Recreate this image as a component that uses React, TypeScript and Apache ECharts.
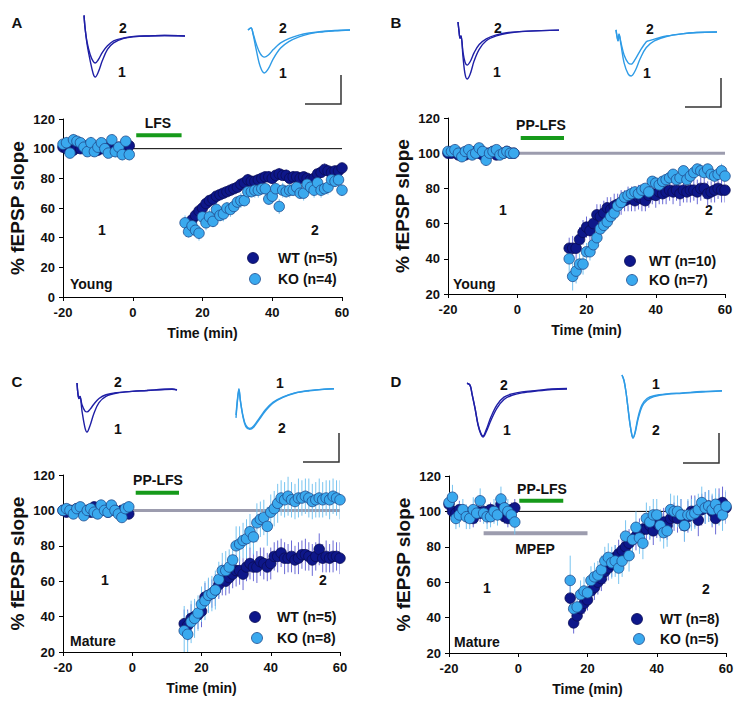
import React, { useEffect, useRef } from "react";
import * as echarts from "echarts";

// ---------- time axes (min) ----------
const baseTimes = [-20, -19, -18, -17, -16, -15, -14, -13, -12, -11, -10, -9, -8, -7, -6, -5, -4, -3, -2, -1];
const postTimes = [15, 16, 17, 18, 19, 20, 21, 22, 23, 24, 25, 26, 27, 28, 29, 30, 31, 32, 33, 34, 35, 36, 37, 38, 39, 40, 41, 42, 43, 44, 45, 46, 47, 48, 49, 50, 51, 52, 53, 54, 55, 56, 57, 58, 59, 60];

// ---------- Panel A (Young, LFS) ----------
const aWTbase = [101, 100, 101, 99, 101, 100, 102, 99, 100, 101, 99, 100, 101, 98, 100, 99, 101, 100, 101, 102];
const aKObase = [103, 104, 97, 106, 105, 104, 101, 98, 104, 98, 101, 104, 100, 97, 106, 98, 101, 96, 105, 96];
const aWTpost = [null, null, 52, 55, 58, 60, 63, 65, 66, 68, 69, 70, 71, 72, 73, 74, 76, 77, 79, 78, 78, 79, 80, 81, 81, 80, 82, 83, 82, 82, 80, 81, 81, 80, 81, 80, 79, 80, 83, 84, 86, 85, 84, 85, 85, 87];
const aKOpost = [50, 44, 48, 45, 43, 54, 50, 54, 51, 59, 55, 56, 60, 59, 61, 64, 65, 65, 71, 71, 72, 72, 73, 73, 66, 68, 73, 61, 72, 71, 72, 72, 74, 70, 70, 76, 74, 72, 77, 72, 73, 74, 79, 78, 79, 72];
const aWTbaseE = [2, 3, 2, 2, 3, 2, 3, 2, 2, 3, 2, 2, 3, 2, 3, 2, 2, 3, 2, 2];
const aKObaseE = [3, 4, 3, 4, 3, 4, 3, 3, 4, 3, 4, 3, 4, 3, 3, 4, 3, 4, 3, 4];
const aWTpostE = [0, 0, 3, 4, 3, 4, 4, 3, 4, 3, 4, 4, 3, 4, 3, 4, 4, 3, 4, 3, 4, 3, 4, 3, 4, 4, 3, 4, 3, 4, 3, 4, 3, 4, 3, 3, 4, 3, 4, 3, 4, 3, 4, 3, 4, 3];
const aKOpostE = [5, 4, 5, 4, 5, 4, 5, 5, 4, 5, 4, 5, 4, 5, 5, 4, 5, 4, 5, 4, 5, 5, 4, 5, 4, 5, 4, 5, 5, 4, 5, 4, 5, 4, 5, 5, 4, 5, 4, 5, 4, 5, 5, 4, 5, 4];

// ---------- Panel B (Young, PP-LFS) ----------
const bWTbase = [100, 100, 101, 99, 100, 99, 100, 100, 101, 100, 99, 100, 100, 101, 99, 100, 100, 101, 100, 100];
const bKObase = [101, 101, 102, 100, 98, 101, 102, 99, 100, 103, 101, 96, 100, 101, 102, 99, 100, 101, 100, 100];
const bWTpost = [46, 46, 46, 51, 55, 58, 56, 60, 65, 64, 66, 69, 68, 70, 71, 72, 73, 74, 74, 73, 75, 74, 73, 76, 77, 76, 78, 77, 78, 79, 78, 79, 77, 79, 78, 79, 79, 78, 80, 80, 77, 78, 79, 80, 79, 79];
const bKOpost = [40, 30, 33, 37, 37, 44, 44, 48, 52, 57, 59, 61, 64, 66, 70, 72, 75, 76, 77, 78, 77, 79, 80, 78, 84, 83, 82, 84, 85, 86, 88, 85, 86, 90, 85, 87, 89, 91, 90, 89, 91, 88, 87, 88, 90, 87];
const bWTbaseE = [2, 1, 2, 2, 1, 2, 2, 1, 2, 2, 1, 2, 2, 1, 2, 2, 1, 2, 2, 1];
const bKObaseE = [2, 2, 1, 2, 2, 2, 1, 2, 2, 2, 1, 3, 2, 2, 1, 2, 2, 2, 1, 2];
const bWTpostE = [6, 7, 6, 7, 7, 6, 7, 7, 6, 7, 7, 6, 7, 7, 6, 7, 6, 7, 7, 6, 7, 7, 6, 7, 6, 7, 7, 6, 7, 6, 7, 6, 7, 7, 6, 7, 6, 7, 7, 6, 7, 6, 7, 6, 7, 7];
const bKOpostE = [8, 8, 7, 6, 6, 5, 5, 5, 4, 4, 4, 4, 4, 4, 3, 3, 3, 4, 3, 3, 4, 3, 3, 4, 3, 3, 4, 3, 3, 4, 3, 3, 4, 3, 3, 4, 3, 3, 4, 3, 3, 4, 3, 3, 4, 3];

// ---------- Panel C (Mature, PP-LFS) ----------
const cWTbase = [100, 99, 100, 100, 101, 100, 99, 100, 99, 102, 101, 100, 101, 99, 101, 100, 99, 100, 99, 98];
const cKObase = [100, 101, 100, 98, 101, 102, 97, 100, 101, 99, 98, 103, 100, 99, 103, 100, 98, 96, 101, 102];
const cWTpost = [36, 35, 39, 40, 41, 43, 51, 52, 53, 55, 58, 61, 60, 62, 64, 66, 66, 64, 68, 70, 68, 68, 71, 70, 68, 70, 74, 74, 76, 73, 73, 74, 72, 73, 75, 75, 74, 72, 74, 78, 73, 74, 73, 74, 74, 73];
const cKOpost = [32, 30, 37, 39, 42, 47, 49, 52, 53, 55, 61, 66, 66, 68, 72, 80, 81, 83, 84, 88, 85, 93, 95, 96, 91, 99, 101, 104, 107, 106, 108, 106, 105, 107, 107, 108, 107, 105, 106, 107, 106, 107, 106, 108, 107, 106];
const cWTbaseE = [2, 2, 2, 3, 2, 2, 2, 3, 2, 2, 2, 3, 2, 2, 2, 3, 2, 2, 2, 3];
const cKObaseE = [2, 3, 2, 2, 3, 2, 2, 3, 2, 2, 3, 2, 2, 3, 2, 2, 3, 2, 2, 3];
const cWTpostE = [8, 9, 8, 9, 8, 9, 8, 9, 8, 9, 8, 9, 8, 9, 8, 9, 8, 9, 8, 9, 8, 9, 8, 9, 8, 9, 8, 9, 8, 9, 8, 9, 8, 9, 8, 9, 8, 9, 8, 9, 8, 9, 8, 9, 8, 9];
const cKOpostE = [14, 13, 12, 11, 10, 10, 11, 10, 10, 11, 10, 10, 11, 10, 10, 11, 10, 10, 11, 10, 10, 11, 10, 10, 11, 10, 10, 11, 10, 10, 11, 10, 10, 11, 10, 10, 11, 10, 10, 11, 10, 10, 11, 10, 10, 11];

// ---------- Panel D (Mature, PP-LFS + MPEP) ----------
const dWTbase = [104, 100, 99, 101, 100, 98, 99, 96, 100, 99, 100, 98, 101, 99, 100, 104, 97, 96, 101, 102];
const dKObase = [105, 108, 96, 98, 101, 97, 96, 101, 99, 106, 99, 97, 97, 100, 98, 107, 102, 100, 98, 94];
const dWTpost = [51, 37, 41, 45, 48, 50, 55, 57, 60, 62, 66, 68, 70, 74, 76, 78, 80, 82, 84, 86, 88, 90, 90, 92, 89, 93, 93, 94, 92, 96, 97, 96, 98, 92, 97, 100, 100, 95, 101, 102, 103, 100, 96, 104, 105, 102];
const dKOpost = [61, 45, 46, 53, 55, 54, 61, 63, 64, 67, 72, 74, 71, 72, 68, 72, 86, 75, 84, 91, 85, 82, 96, 94, 98, 98, 92, 88, 89, 101, 100, 100, 98, 92, 98, 98, 99, 101, 105, 102, 103, 101, 104, 101, 98, 103];
const dWTbaseE = [4, 5, 4, 5, 4, 5, 4, 5, 4, 5, 4, 5, 4, 5, 4, 5, 4, 5, 4, 5];
const dKObaseE = [6, 7, 6, 7, 6, 7, 6, 7, 6, 7, 6, 7, 6, 7, 6, 7, 6, 7, 6, 7];
const dWTpostE = [7, 6, 6, 6, 6, 6, 7, 7, 7, 7, 7, 7, 7, 7, 8, 8, 8, 8, 8, 8, 8, 8, 8, 8, 8, 8, 8, 8, 8, 8, 8, 8, 9, 9, 9, 9, 9, 9, 9, 9, 9, 9, 9, 9, 9, 9];
const dKOpostE = [14, 8, 8, 8, 8, 8, 8, 8, 8, 8, 8, 8, 9, 9, 9, 9, 9, 9, 9, 9, 9, 9, 9, 9, 9, 9, 9, 9, 9, 9, 9, 9, 9, 9, 9, 9, 9, 9, 9, 9, 9, 9, 9, 9, 9, 9];

// ---------- annotations (data units) ----------
const refLineX = [0, 60];
const refLineY = 100;
const stimA = [1, 14, 109];
const stimB = [1, 13.5, 108.6];
const stimC = [1, 13.5, 110];
const stimD = [0.3, 13, 106];
const mpepD = [-10, 20, 87.7];

// ---------- EPSP sample traces (ms, normalised amplitude) ----------
const trAWT1 = [[0.1, 0.5], [0.2, 0.2], [0.4, -0.2], [0.7, -0.6], [1.0, -0.92], [1.2, -1.0], [1.5, -0.88], [1.9, -0.6], [2.4, -0.33], [3, -0.17], [4, -0.06], [5, -0.02], [6.5, 0], [8, 0.01], [10, 0]];
const trAWT2 = [[0.1, 0.5], [0.2, 0.2], [0.4, -0.15], [0.7, -0.45], [1.0, -0.62], [1.2, -0.66], [1.5, -0.58], [1.9, -0.4], [2.4, -0.24], [3, -0.12], [4, -0.05], [5, -0.01], [6.5, 0], [8, 0.01], [10, 0]];
const trAKO1 = [[0, 0], [0.3, 0.05], [0.5, -0.1], [0.8, -0.45], [1.2, -0.85], [1.6, -1.0], [2.0, -0.9], [2.5, -0.66], [3.2, -0.42], [4, -0.27], [5, -0.16], [6, -0.09], [7, -0.05], [8.5, -0.02], [10, 0]];
const trAKO2 = [[0, 0], [0.3, 0.05], [0.5, -0.08], [0.8, -0.32], [1.2, -0.55], [1.6, -0.63], [2.0, -0.58], [2.5, -0.45], [3.2, -0.3], [4, -0.2], [5, -0.12], [6, -0.07], [7, -0.04], [8.5, -0.01], [10, 0]];
const trBWT1 = [[0, 0.19], [0.1, 0.0], [0.2, -0.15], [0.3, -0.1], [0.5, -0.55], [0.7, -0.9], [0.9, -1.0], [1.2, -0.9], [1.6, -0.62], [2.1, -0.38], [2.8, -0.2], [3.8, -0.1], [5, -0.04], [7, 0], [10, 0.02]];
const trBWT2 = [[0, 0.19], [0.1, 0.0], [0.2, -0.15], [0.3, -0.1], [0.5, -0.45], [0.7, -0.65], [0.9, -0.71], [1.2, -0.64], [1.6, -0.45], [2.1, -0.28], [2.8, -0.16], [3.8, -0.08], [5, -0.03], [7, 0], [10, 0.02]];
const trBKO1 = [[0, 0.05], [0.1, -0.1], [0.2, -0.2], [0.3, -0.05], [0.5, -0.3], [0.8, -0.7], [1.2, -0.95], [1.5, -1.0], [1.9, -0.88], [2.4, -0.6], [3.0, -0.35], [3.8, -0.2], [5, -0.1], [6.5, -0.04], [8, -0.01], [10, 0]];
const trBKO2 = [[0, 0.05], [0.1, -0.1], [0.2, -0.2], [0.3, -0.05], [0.5, -0.25], [0.8, -0.52], [1.2, -0.7], [1.5, -0.73], [1.9, -0.62], [2.4, -0.42], [3.0, -0.22], [3.2, -0.2], [3.8, -0.16], [5, -0.09], [6.5, -0.04], [8, -0.01], [10, 0]];
const trCWT1 = [[0, 0.17], [0.1, -0.1], [0.2, -0.2], [0.3, -0.15], [0.5, -0.5], [0.8, -0.9], [1.0, -1.0], [1.3, -0.85], [1.7, -0.55], [2.2, -0.3], [2.9, -0.15], [4, -0.07], [5.5, -0.03], [7, -0.01], [8.5, 0.02], [9.5, 0.03], [10, 0.0]];
const trCWT2 = [[0, 0.17], [0.1, -0.1], [0.2, -0.2], [0.3, -0.15], [0.5, -0.35], [0.8, -0.5], [1.0, -0.52], [1.3, -0.46], [1.7, -0.33], [2.2, -0.2], [2.9, -0.11], [4, -0.06], [5.5, -0.03], [7, -0.01], [8.5, 0.01], [9.5, 0.02], [10, 0.01]];
const trCKO1 = [[0, -0.72], [0.15, -0.3], [0.3, -0.02], [0.45, -0.3], [0.7, -0.65], [1.0, -0.9], [1.4, -0.98], [1.8, -0.92], [2.4, -0.72], [3.0, -0.52], [3.8, -0.33], [4.8, -0.2], [6, -0.1], [7.5, -0.04], [9, -0.01], [10, 0]];
const trCKO2 = [[0, -0.65], [0.15, -0.25], [0.3, 0], [0.45, -0.3], [0.7, -0.68], [1.0, -0.94], [1.4, -1.0], [1.8, -0.95], [2.4, -0.75], [3.0, -0.55], [3.8, -0.35], [4.8, -0.21], [6, -0.11], [7.5, -0.05], [9, -0.01], [10, 0]];
const trDWT1 = [[0, 0.12], [0.3, 0.08], [0.5, -0.1], [0.8, -0.4], [1.1, -0.75], [1.4, -0.95], [1.6, -1.0], [1.9, -0.9], [2.4, -0.65], [3.0, -0.4], [3.7, -0.22], [4.5, -0.13], [5.5, -0.08], [7, -0.04], [8.5, -0.01], [10, 0]];
const trDWT2 = [[0, 0.12], [0.3, 0.08], [0.5, -0.1], [0.8, -0.4], [1.1, -0.73], [1.4, -0.93], [1.6, -0.98], [1.9, -0.86], [2.4, -0.58], [3.0, -0.33], [3.7, -0.17], [4.5, -0.1], [5.5, -0.06], [7, -0.03], [8.5, 0], [10, 0.01]];
const trDKO1 = [[0, 0.37], [0.2, 0.25], [0.4, 0.0], [0.6, -0.35], [0.8, -0.7], [1.0, -0.95], [1.1, -1.0], [1.3, -0.9], [1.6, -0.6], [2.0, -0.32], [2.5, -0.18], [3.2, -0.1], [4.5, -0.05], [6, -0.03], [8, 0], [10, 0.02]];
const trDKO2 = [[0, 0.37], [0.2, 0.25], [0.4, 0.0], [0.6, -0.35], [0.8, -0.7], [1.0, -0.95], [1.1, -1.0], [1.3, -0.88], [1.6, -0.55], [2.0, -0.28], [2.5, -0.14], [3.2, -0.08], [4.5, -0.04], [6, -0.02], [8, 0.01], [10, 0.03]];

// ---------- styles ----------
const FONT = '"Liberation Sans", Arial, Helvetica, sans-serif';
const WT_FILL = "#0e178a";
const WT_EDGE = "#0a0c55";
const KO_FILL = "#3aa9ee";
const KO_EDGE = "#1f4a8c";
const WT_ERR = "#6a6ad6";
const KO_ERR = "#78c4f0";
const WT_TRACE = "#1f1fa6";
const KO_TRACE = "#2e9be6";
const GREEN = "#169a1a";
const GREY_BAR = "#9c9cae";

type Panel = {
  box: number[];
  yMin: number;
  wtBase: number[]; koBase: number[]; wtPost: (number | null)[]; koPost: number[];
  wtBaseE: number[]; koBaseE: number[]; wtPostE: number[]; koPostE: number[];
  refColor: string; refWidth: number;
  stim: number[];
  mpep?: number[];
};

const panels: Panel[] = [
  { box: [63, 119, 279, 178], yMin: 0, wtBase: aWTbase, koBase: aKObase, wtPost: aWTpost, koPost: aKOpost, wtBaseE: aWTbaseE, koBaseE: aKObaseE, wtPostE: aWTpostE, koPostE: aKOpostE, refColor: "#000", refWidth: 1, stim: stimA },
  { box: [448, 118, 277, 176], yMin: 20, wtBase: bWTbase, koBase: bKObase, wtPost: bWTpost, koPost: bKOpost, wtBaseE: bWTbaseE, koBaseE: bKObaseE, wtPostE: bWTpostE, koPostE: bKOpostE, refColor: GREY_BAR, refWidth: 3, stim: stimB },
  { box: [63, 475, 277, 177], yMin: 20, wtBase: cWTbase, koBase: cKObase, wtPost: cWTpost, koPost: cKOpost, wtBaseE: cWTbaseE, koBaseE: cKObaseE, wtPostE: cWTpostE, koPostE: cKOpostE, refColor: GREY_BAR, refWidth: 3, stim: stimC },
  { box: [449, 476, 277, 177], yMin: 20, wtBase: dWTbase, koBase: dKObase, wtPost: dWTpost, koPost: dKOpost, wtBaseE: dWTbaseE, koBaseE: dKObaseE, wtPostE: dWTpostE, koPostE: dKOpostE, refColor: "#000", refWidth: 1, stim: stimD, mpep: mpepD },
];

type TraceBox = { box: number[]; y: number[]; t1: number[][]; t2: number[][]; color: string };
const traces: TraceBox[] = [
  { box: [83, 15, 102, 62], y: [-1, 0.51], t1: trAWT1, t2: trAWT2, color: WT_TRACE },
  { box: [248, 26, 102, 47], y: [-1, 0.093], t1: trAKO1, t2: trAKO2, color: KO_TRACE },
  { box: [458, 22, 101, 57], y: [-1, 0.19], t1: trBWT1, t2: trBWT2, color: WT_TRACE },
  { box: [616, 29, 101, 47], y: [-1, 0.07], t1: trBKO1, t2: trBKO2, color: KO_TRACE },
  { box: [77, 383, 100, 49], y: [-1, 0.17], t1: trCWT1, t2: trCWT2, color: WT_TRACE },
  { box: [236, 388, 98, 42], y: [-1.02, 0.02], t1: trCKO1, t2: trCKO2, color: KO_TRACE },
  { box: [467, 383, 100, 54], y: [-1, 0.125], t1: trDWT1, t2: trDWT2, color: WT_TRACE },
  { box: [622, 375, 100, 63], y: [-1, 0.37], t1: trDKO1, t2: trDKO2, color: KO_TRACE },
];

function toPoints(times: number[], vals: (number | null)[], errs: number[]) {
  const out: number[][] = [];
  times.forEach((t, i) => {
    const v = vals[i];
    if (v !== null && v !== undefined) out.push([t, v, errs[i]]);
  });
  return out;
}

function txt(text: string, x: number, y: number, size: number, align = "center") {
  return {
    type: "text",
    silent: true,
    style: {
      text, x, y,
      font: `bold ${size}px ${FONT}`,
      fill: "#111",
      align, verticalAlign: "middle",
      textAlign: align, textVerticalAlign: "middle",
    },
  };
}

function legendItem(cx: number, cy: number, fill: string, edge: string, label: string, tx: number) {
  return [
    { type: "circle", silent: true, shape: { cx, cy, r: 5.5 }, style: { fill, stroke: edge, lineWidth: 0.8 } },
    txt(label, tx, cy, 14, "left"),
  ];
}

function scaleBar(x0: number, x1: number, yb: number, yt: number) {
  return { type: "polyline", silent: true, shape: { points: [[x0, yb], [x1, yb], [x1, yt]] }, style: { stroke: "#333", lineWidth: 1.5, fill: null } };
}

function buildOption() {
  const grid: any[] = [];
  const xAxis: any[] = [];
  const yAxis: any[] = [];
  const series: any[] = [];
  const labelStyle = { fontFamily: FONT, fontWeight: "bold", fontSize: 13, color: "#111" };

  panels.forEach((p, i) => {
    grid.push({ left: p.box[0], top: p.box[1], width: p.box[2], height: p.box[3] });
    xAxis.push({
      gridIndex: i, type: "value", min: -20, max: 60, interval: 20,
      axisLine: { show: true, onZero: false, lineStyle: { color: "#000", width: 1 } },
      axisTick: { show: true, length: 4, lineStyle: { color: "#000" } },
      axisLabel: { ...labelStyle, margin: 9 },
      splitLine: { show: false },
      name: "Time (min)", nameLocation: "middle", nameGap: 29,
      nameTextStyle: { fontFamily: FONT, fontWeight: "bold", fontSize: 14, color: "#111" },
    });
    yAxis.push({
      gridIndex: i, type: "value", min: p.yMin, max: 120, interval: 20,
      axisLine: { show: true, onZero: false, lineStyle: { color: "#000", width: 1 } },
      axisTick: { show: true, length: 4, lineStyle: { color: "#000" } },
      axisLabel: { ...labelStyle, margin: 8 },
      splitLine: { show: false },
      name: "% fEPSP slope", nameLocation: "middle", nameGap: 36, nameRotate: 90,
      nameTextStyle: { fontFamily: FONT, fontWeight: "bold", fontSize: 19, color: "#111" },
    });

    const wt = toPoints(baseTimes, p.wtBase, p.wtBaseE).concat(toPoints(postTimes, p.wtPost, p.wtPostE));
    const ko = toPoints(baseTimes, p.koBase, p.koBaseE).concat(toPoints(postTimes, p.koPost, p.koPostE));

    const errSeries = (data: number[][], color: string, z: number) => ({
      type: "custom", xAxisIndex: i, yAxisIndex: i, data, z, silent: true, clip: true,
      renderItem: (_params: any, api: any) => {
        const x = api.value(0), y = api.value(1), e = api.value(2);
        const a = api.coord([x, y - e]);
        const b = api.coord([x, y + e]);
        return { type: "line", shape: { x1: a[0], y1: a[1], x2: b[0], y2: b[1] }, style: { stroke: color, lineWidth: 1 } };
      },
    });

    series.push(errSeries(wt, WT_ERR, 2));
    series.push(errSeries(ko, KO_ERR, 2));

    series.push({
      type: "line", xAxisIndex: i, yAxisIndex: i, silent: true, symbol: "none", z: 1,
      data: [[refLineX[0], refLineY], [refLineX[1], refLineY]],
      lineStyle: { color: p.refColor, width: p.refWidth },
    });
    series.push({
      type: "line", xAxisIndex: i, yAxisIndex: i, silent: true, symbol: "none", z: 1,
      data: [[p.stim[0], p.stim[2]], [p.stim[1], p.stim[2]]],
      lineStyle: { color: GREEN, width: 4 },
    });
    if (p.mpep) {
      series.push({
        type: "line", xAxisIndex: i, yAxisIndex: i, silent: true, symbol: "none", z: 1,
        data: [[p.mpep[0], p.mpep[2]], [p.mpep[1], p.mpep[2]]],
        lineStyle: { color: GREY_BAR, width: 4 },
      });
    }
    series.push({
      type: "scatter", xAxisIndex: i, yAxisIndex: i, data: wt, symbol: "circle", symbolSize: 10.5, z: 3,
      encode: { x: 0, y: 1 },
      itemStyle: { color: WT_FILL, borderColor: WT_EDGE, borderWidth: 0.8, opacity: 1 },
    });
    series.push({
      type: "scatter", xAxisIndex: i, yAxisIndex: i, data: ko, symbol: "circle", symbolSize: 10.5, z: 4,
      encode: { x: 0, y: 1 },
      itemStyle: { color: KO_FILL, borderColor: KO_EDGE, borderWidth: 0.8, opacity: 1 },
    });
  });

  traces.forEach((tr, k) => {
    const gi = panels.length + k;
    grid.push({ left: tr.box[0], top: tr.box[1], width: tr.box[2], height: tr.box[3] });
    xAxis.push({ gridIndex: gi, type: "value", min: 0, max: 10, show: false });
    yAxis.push({ gridIndex: gi, type: "value", min: tr.y[0], max: tr.y[1], show: false });
    [tr.t1, tr.t2].forEach((d) => {
      series.push({
        type: "line", xAxisIndex: gi, yAxisIndex: gi, data: d, symbol: "none", smooth: 0.35, silent: true,
        lineStyle: { color: tr.color, width: 1.4 }, clip: false,
      });
    });
  });

  const graphic: any[] = [
    txt("A", 17, 22, 15), txt("B", 396, 22, 15), txt("C", 17, 381, 15), txt("D", 396, 381, 15),
    // trace labels
    txt("2", 123, 28, 14), txt("1", 122, 72, 14), txt("2", 283, 28, 14), txt("1", 283, 73, 14),
    txt("2", 498, 28, 14), txt("1", 497, 72, 14), txt("2", 650, 29, 14), txt("1", 647, 73, 14),
    txt("2", 118, 382, 14), txt("1", 118, 429, 14), txt("1", 280, 383, 14), txt("2", 282, 428, 14),
    txt("2", 504, 385, 14), txt("1", 507, 430, 14), txt("1", 656, 384, 14), txt("2", 656, 430, 14),
    // scale bars
    scaleBar(305, 341, 104, 75), scaleBar(685, 721, 107, 78), scaleBar(303, 339, 462, 433), scaleBar(683, 719, 463, 433),
    // in-plot labels
    txt("1", 102, 230, 14), txt("2", 315, 230, 14),
    txt("1", 503, 210, 14), txt("2", 709, 210, 14),
    txt("1", 105, 580, 14), txt("2", 323, 580, 14),
    txt("1", 487, 588, 14), txt("2", 706, 589, 14),
    txt("Young", 70, 284, 14, "left"), txt("Young", 453, 284, 14, "left"),
    txt("Mature", 70, 641, 14, "left"), txt("Mature", 454, 642, 14, "left"),
    txt("LFS", 158, 123, 14), txt("PP-LFS", 541, 125, 14), txt("PP-LFS", 158, 480, 14),
    txt("PP-LFS", 542, 489, 14), txt("MPEP", 535, 549, 14),
    ...legendItem(253, 258, WT_FILL, WT_EDGE, "WT (n=5)", 278),
    ...legendItem(255, 279, KO_FILL, KO_EDGE, "KO (n=4)", 278),
    ...legendItem(630, 261, WT_FILL, WT_EDGE, "WT (n=10)", 649),
    ...legendItem(632, 280, KO_FILL, KO_EDGE, "KO (n=7)", 649),
    ...legendItem(255, 617, WT_FILL, WT_EDGE, "WT (n=5)", 277),
    ...legendItem(257, 638, KO_FILL, KO_EDGE, "KO (n=8)", 277),
    ...legendItem(637, 619, WT_FILL, WT_EDGE, "WT (n=8)", 660),
    ...legendItem(639, 639, KO_FILL, KO_EDGE, "KO (n=5)", 660),
  ];

  return {
    animation: false,
    backgroundColor: "#ffffff",
    grid, xAxis, yAxis, series,
    graphic: { elements: graphic },
  };
}

export default function App() {
  const ref = useRef<HTMLDivElement>(null);
  useEffect(() => {
    document.body.style.margin = "0";
    if (!ref.current) return;
    const chart = echarts.init(ref.current, undefined, { renderer: "svg" });
    chart.setOption(buildOption() as any);
    return () => chart.dispose();
  }, []);
  return <div ref={ref} style={{ position: "absolute", left: 0, top: 0, width: 739, height: 705 }} />;
}
